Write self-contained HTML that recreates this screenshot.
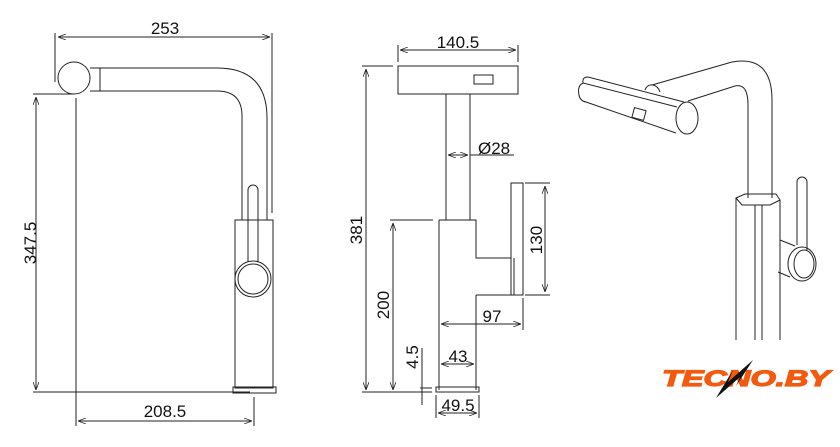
<!DOCTYPE html>
<html><head><meta charset="utf-8"><style>
html,body{margin:0;padding:0;background:#fff;width:840px;height:447px;overflow:hidden}
svg{display:block}
text{font-family:"Liberation Sans",Arial,sans-serif;fill:#111}
</style></head><body>
<svg width="840" height="447" viewBox="0 0 840 447" xmlns="http://www.w3.org/2000/svg">
<defs>
<marker id="a" markerWidth="8" markerHeight="6" refX="8" refY="3" orient="auto-start-reverse" markerUnits="userSpaceOnUse"><path d="M0,0 L8,3 L0,6" fill="none" stroke="#222" stroke-width="0.8"/></marker>
</defs>
<g stroke="#222" stroke-width="1" fill="none">
<!-- LEFT VIEW -->
<line x1="55" y1="33" x2="55" y2="82"/>
<line x1="272" y1="33" x2="272" y2="213"/>
<line x1="58" y1="37" x2="270" y2="37" marker-start="url(#a)" marker-end="url(#a)"/>
<circle cx="74" cy="78" r="16"/>
<path d="M90,68 L100,68 L100,91 L90,91"/>
<path d="M100,68 L217,68 Q267,68 267,118 L267,220"/>
<path d="M100,91 L217,91 Q242,91 242,116 L242,220"/>
<rect x="235" y="220" width="38" height="168"/>
<rect x="233" y="387" width="43" height="6"/>
<path d="M248,265 L248,190 A5,5 0 0 1 258,190 L258,265"/>
<circle cx="253" cy="279" r="18" fill="#fff"/>
<circle cx="253" cy="279" r="15"/>
<line x1="33" y1="94" x2="75" y2="94"/>
<line x1="33" y1="392" x2="250" y2="392"/>
<line x1="36" y1="97" x2="36" y2="390" marker-start="url(#a)" marker-end="url(#a)"/>
<line x1="76" y1="98" x2="76" y2="426"/>
<line x1="254" y1="397" x2="254" y2="426"/>
<line x1="78" y1="421" x2="252" y2="421" marker-start="url(#a)" marker-end="url(#a)"/>

<!-- MIDDLE VIEW -->
<line x1="398" y1="45" x2="398" y2="62"/>
<line x1="518" y1="45" x2="518" y2="62"/>
<line x1="400" y1="50" x2="516" y2="50" marker-start="url(#a)" marker-end="url(#a)"/>
<rect x="398" y="66" width="120" height="28"/>
<rect x="474" y="75" width="19" height="9"/>
<line x1="446" y1="94" x2="446" y2="220"/>
<line x1="470" y1="94" x2="470" y2="220"/>
<line x1="448" y1="155" x2="468" y2="155" marker-start="url(#a)" marker-end="url(#a)"/>
<line x1="470" y1="155" x2="514" y2="155"/>
<path d="M439,220 L476,220 L476,258 L511,258"/>
<path d="M476,295 L511,295"/>
<line x1="476" y1="295" x2="476" y2="390"/>
<line x1="439" y1="220" x2="439" y2="390"/>
<rect x="511" y="183" width="12" height="112"/>
<line x1="514" y1="258" x2="514" y2="295"/>
<line x1="525" y1="183" x2="550" y2="183"/>
<line x1="525" y1="295" x2="550" y2="295"/>
<line x1="545" y1="186" x2="545" y2="292" marker-start="url(#a)" marker-end="url(#a)"/>
<line x1="523" y1="298" x2="523" y2="330"/>
<line x1="441" y1="324" x2="521" y2="324" marker-start="url(#a)" marker-end="url(#a)"/>
<line x1="441" y1="364" x2="474" y2="364" marker-start="url(#a)" marker-end="url(#a)"/>
<rect x="436" y="387" width="43" height="5"/>
<line x1="436" y1="395" x2="436" y2="418"/>
<line x1="479" y1="395" x2="479" y2="418"/>
<line x1="438" y1="413" x2="477" y2="413" marker-start="url(#a)" marker-end="url(#a)"/>
<line x1="362" y1="66" x2="393" y2="66"/>
<line x1="362" y1="392" x2="432" y2="392"/>
<line x1="366" y1="69" x2="366" y2="390" marker-start="url(#a)" marker-end="url(#a)"/>
<line x1="390" y1="220" x2="433" y2="220"/>
<line x1="393" y1="223" x2="393" y2="390" marker-start="url(#a)" marker-end="url(#a)"/>
<line x1="420" y1="388" x2="432" y2="388"/>
<line x1="422" y1="348" x2="422" y2="405"/>

<!-- RIGHT ISO -->
<path d="M588,77 L684,102"/>
<path d="M588,77 Q582,77 583,83 L677,107"/>
<path d="M583,83 Q577,86 579,95 Q580,101 586,102 L676,133"/>
<ellipse cx="687" cy="118" rx="11" ry="16"/>
<rect x="633" y="109" width="12" height="10" transform="rotate(15 639 114)"/>
<path d="M645,90 Q647,84 653,85 Q658,86 660,92"/>
<path d="M652,85 L732,62 Q772,55 772,100 L772,198"/>
<path d="M688,101 L735,86 Q748,83 748,105 L748,198"/>
<path d="M736,198 L745,194 L776,194 L780,200 L770,205 L742,205 Z"/>
<line x1="736" y1="198" x2="736" y2="340"/>
<line x1="780" y1="200" x2="780" y2="340"/>
<line x1="755" y1="205" x2="755" y2="340"/>
<line x1="762" y1="205" x2="762" y2="340"/>
<path d="M780,240 L795,246"/>
<path d="M778,272 L790,277"/>
<path d="M797,245 L797,182 A5,5 0 0 1 807,182 L807,250"/>
<ellipse cx="802" cy="264" rx="14" ry="17"/>
<ellipse cx="804" cy="264" rx="10" ry="14"/>
</g>
<g font-size="17">
<text x="165" y="34" text-anchor="middle">253</text>
<text x="165" y="417" text-anchor="middle">208.5</text>
<text transform="translate(36,243) rotate(-90)" text-anchor="middle">347.5</text>
<text x="458" y="48" text-anchor="middle">140.5</text>
<text x="478" y="154">Ø28</text>
<text transform="translate(542,240) rotate(-90)" text-anchor="middle">130</text>
<text x="492" y="322" text-anchor="middle">97</text>
<text x="458" y="362" text-anchor="middle">43</text>
<text x="458" y="411" text-anchor="middle">49.5</text>
<text transform="translate(362,230) rotate(-90)" text-anchor="middle">381</text>
<text transform="translate(389,305) rotate(-90)" text-anchor="middle">200</text>
<text transform="translate(418,357) rotate(-90)" text-anchor="middle">4.5</text>
</g>
<text x="662" y="386" font-size="22" font-weight="900" font-style="italic" style="fill:#f25a0f;font-weight:bold;stroke:#f25a0f;stroke-width:1.2" textLength="168" lengthAdjust="spacingAndGlyphs">TECNO.BY</text>
<path d="M716,398 L733,370 L728,382 L753,360 L736,386 L740,377 Z" fill="#111"/>
</svg>
</body></html>
